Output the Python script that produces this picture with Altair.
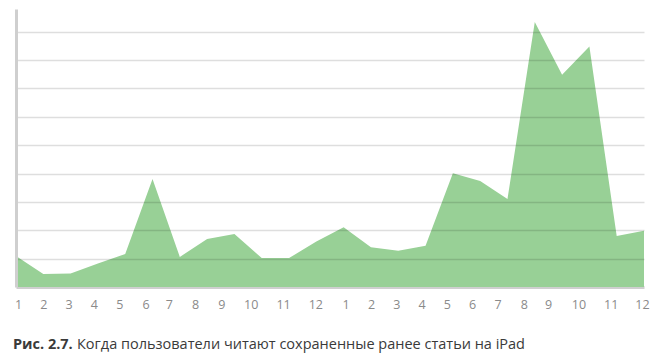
import altair as alt
import pandas as pd

# 24 monthly points across two years
months = [1, 2, 3, 4, 5, 6, 7, 8, 9, 10, 11, 12,
          1, 2, 3, 4, 5, 6, 7, 8, 9, 10, 11, 12]
values = [1.09, 0.46, 0.48, 0.83, 1.16, 3.81, 1.06, 1.69, 1.87, 1.02, 1.02, 1.60,
          2.11, 1.40, 1.28, 1.45, 4.01, 3.74, 3.10, 9.34, 7.48, 8.48, 1.80, 1.98]
caption_bold = "Рис. 2.7."
caption_text = "Когда пользователи читают сохраненные ранее статьи на iPad"

df = pd.DataFrame({"i": list(range(len(values))), "m": months, "v": values})

# label offsets reproduce the text-flow spacing of the original axis labels
offsets = [2, 0, -2, -4, -6, -7, -11, -12, -13, -11, -6, -1,
           2, 0, -2, -4, -6, -8, -10, -11, -14, -11, -6, -2]
offset_expr = "[" + ",".join(str(o) for o in offsets) + "][datum.value]"

area = alt.Chart(df).mark_area(color="#98d096", opacity=1).encode(
    x=alt.X("i:Q", scale=alt.Scale(domain=[0, 23], nice=False, zero=False),
            axis=alt.Axis(values=list(range(24)), labelExpr="(datum.value % 12) + 1",
                          title=None, ticks=False, grid=False,
                          domainColor="#cfcfcf", domainWidth=3,
                          labelColor="#8a8a8a", labelFontSize=12.5, labelFont="Open Sans",
                          labelPadding=11, labelFlush=False, labelOverlap=False,
                          labelOffset={"expr": offset_expr})),
    y=alt.Y("v:Q", scale=alt.Scale(domain=[0, 9.8], nice=False),
            axis=alt.Axis(values=[1, 2, 3, 4, 5, 6, 7, 8, 9], labels=False, ticks=False,
                          title=None, grid=True, gridColor="#000000", gridOpacity=0.13,
                          gridWidth=1.5, domainColor="#cfcfcf", domainWidth=3, zindex=1)),
)

cap_df = pd.DataFrame({"b": [caption_bold], "t": [caption_text]})
cap1 = alt.Chart(cap_df).mark_text(align="left", baseline="middle", font="Open Sans",
                                   fontSize=14.5, fontWeight="bold", color="#3a3a3a").encode(
    text="b:N", x=alt.value(-3), y=alt.value(336))
cap2 = alt.Chart(cap_df).mark_text(align="left", baseline="middle", font="Open Sans",
                                   fontSize=14.5, color="#3a3a3a").encode(
    text="t:N", x=alt.value(61), y=alt.value(336))

chart = alt.layer(area, cap1, cap2).properties(
    width=628, height=278,
    autosize=alt.AutoSizeParams(type="none"),
    padding={"left": 16, "top": 9, "right": 13, "bottom": 75},
).configure_view(stroke=None)

chart.save("out.html", embed_options={"renderer": "svg", "actions": False})
